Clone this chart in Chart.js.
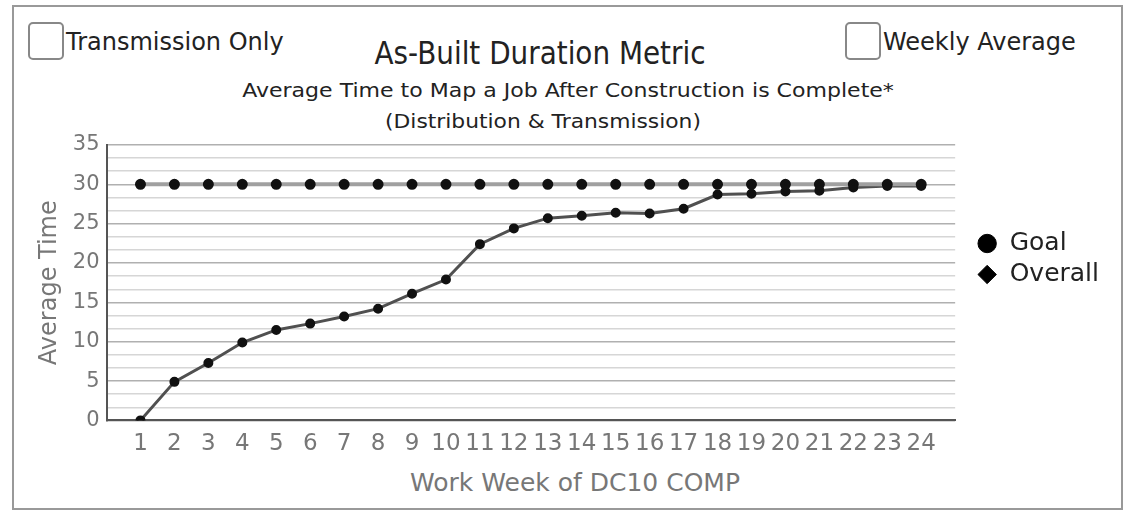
<!DOCTYPE html>
<html>
<head>
<meta charset="utf-8">
<script src="https://cdn.jsdelivr.net/npm/chart.js@4"></script>
<style>
  html, body { margin: 0; padding: 0; background: #fff; }
  #wrap { position: relative; width: 1130px; height: 513px; overflow: hidden; }
  #frame { position: absolute; left: 12px; top: 5px; width: 1107px; height: 501px; border: 2px solid #999; }
  canvas { position: absolute; left: 0; top: 0; }
  .head { position: absolute; font-family: "DejaVu Sans", sans-serif; color: #222; white-space: nowrap; line-height: 1; }
  .box { position: absolute; width: 32px; height: 34px; border: 2px solid #888; border-radius: 5px; }
</style>
</head>
<body>
<div id="wrap">
  <div id="frame"></div>
  <div class="box" style="left:28px; top:22px;"></div>
  <div class="head" style="left:66px; top:30px; font-size:24px;">Transmission Only</div>
  <div class="box" style="left:845px; top:22px;"></div>
  <div class="head" style="left:883px; top:30px; font-size:24px;">Weekly Average</div>
  <div class="head" style="left:540px; top:37px; font-size:32px; transform:translateX(-50%) scaleX(0.87);">As-Built Duration Metric</div>
  <div class="head" style="left:568px; top:81px; font-size:19px; transform:translateX(-50%) scaleX(1.16);">Average Time to Map a Job After Construction is Complete*</div>
  <div class="head" style="left:543px; top:111px; font-size:20px; transform:translateX(-50%) scaleX(1.09);">(Distribution &amp; Transmission)</div>
  <div class="head" style="left:410px; top:470px; font-size:25px; color:#777;">Work Week of DC10 COMP</div>
  <canvas id="chart" width="1130" height="513"></canvas>
</div>
<script>
const weeks = [1, 2, 3, 4, 5, 6, 7, 8, 9, 10, 11, 12, 13, 14, 15, 16, 17, 18, 19, 20, 21, 22, 23, 24];
const goal = [30, 30, 30, 30, 30, 30, 30, 30, 30, 30, 30, 30, 30, 30, 30, 30, 30, 30, 30, 30, 30, 30, 30, 30];
const overall = [0, 4.9, 7.3, 9.9, 11.5, 12.3, 13.2, 14.2, 16.1, 17.9, 22.4, 24.4, 25.7, 26.0, 26.4, 26.3, 26.9, 28.7, 28.8, 29.1, 29.2, 29.6, 29.8, 29.8];
const yTicks = [0, 5, 10, 15, 20, 25, 30, 35];

const grey = "#777";
const isMajor = (v) => Math.abs(v / 5 - Math.round(v / 5)) < 1e-6;

// nudge the legend so it sits beside the middle of the plot like the original
const legendNudge = {
  id: "legendNudge",
  afterLayout(chart) {
    const lg = chart.legend;
    lg.left += 16;
    lg.right += 16;
    lg.top = chart.chartArea.top + 80;
  },
};

const config = {
  type: "line",
  data: {
    datasets: [
      {
        label: "Goal",
        data: weeks.map((w, i) => ({ x: w, y: goal[i] })),
        borderColor: "#a0a0a0",
        borderWidth: 4,
        pointBackgroundColor: "#111",
        pointBorderColor: "#111",
        pointRadius: 3.5,
      },
      {
        label: "Overall",
        data: weeks.map((w, i) => ({ x: w, y: overall[i] })),
        borderColor: "#505050",
        borderWidth: 3,
        pointBackgroundColor: "#111",
        pointBorderColor: "#111",
        pointRadius: 3.5,
      },
    ],
  },
  options: {
    responsive: false,
    animation: false,
    layout: {
      padding: { top: 145, left: 33, right: 37, bottom: 45 },
    },
    scales: {
      x: {
        type: "linear",
        min: 0,
        max: 25,
        afterBuildTicks: (axis) => {
          axis.ticks = weeks.map((w) => ({ value: w }));
        },
        grid: { display: false, drawTicks: false },
        border: { color: "#555", width: 2 },
        ticks: {
          color: grey,
          padding: 10,
          maxRotation: 0,
          autoSkip: false,
          font: { family: "DejaVu Sans", size: 23 },
        },
      },
      y: {
        min: 0,
        max: 35,
        afterBuildTicks: (axis) => {
          const t = [];
          for (let i = 0; i <= 21; i++) t.push({ value: (i * 5) / 3 });
          axis.ticks = t;
        },
        grid: {
          drawTicks: false,
          color: (c) => (c.tick && isMajor(c.tick.value) ? "#b0b0b0" : "#d6d6d6"),
          lineWidth: 1.5,
        },
        border: { color: "#555", width: 2 },
        ticks: {
          color: grey,
          padding: 7,
          autoSkip: false,
          font: { family: "DejaVu Sans", size: 21 },
          callback: (v) => {
            const r = Math.round(v);
            return isMajor(v) && yTicks.includes(r) ? String(r) : "";
          },
        },
        title: {
          display: true,
          text: "Average Time",
          color: grey,
          padding: { top: 2, bottom: 2 },
          font: { family: "DejaVu Sans", size: 24 },
        },
      },
    },
    plugins: {
      legend: {
        position: "right",
        align: "start",
        labels: {
          usePointStyle: true,
          boxWidth: 20,
          boxHeight: 13,
          color: "#222",
          padding: 6,
          font: { family: "DejaVu Sans", size: 25 },
          generateLabels: (chart) =>
            chart.data.datasets.map((ds, i) => ({
              text: ds.label,
              datasetIndex: i,
              fillStyle: "#000",
              strokeStyle: "#000",
              lineWidth: 1,
              pointStyle: i === 0 ? "circle" : "rectRot",
              fontColor: "#222",
            })),
        },
      },
      tooltip: { enabled: false },
    },
  },
  plugins: [legendNudge],
};

new Chart(document.getElementById("chart"), config);
</script>
</body>
</html>
